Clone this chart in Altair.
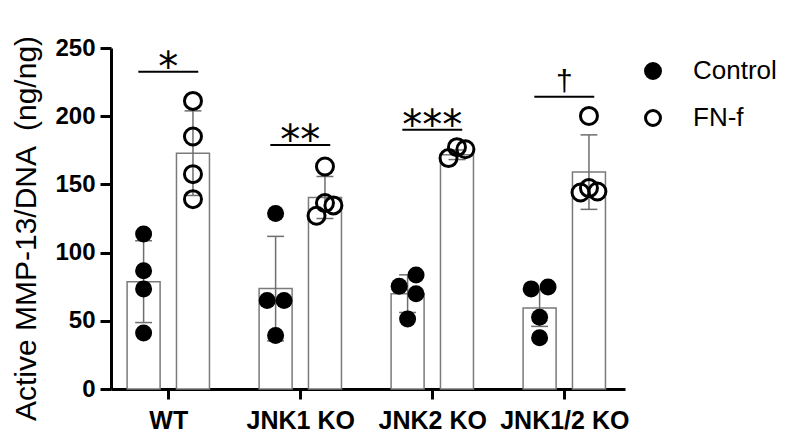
import json
import altair as alt
import pandas as pd

# ---------------- data ----------------
groups = ["WT", "JNK1 KO", "JNK2 KO", "JNK1/2 KO"]
treatments = ["Control", "FN-f"]

ctrl_points = [[113.6, 86.7, 73.4, 41.1],
               [128.7, 64.8, 64.8, 39.2],
               [83.6, 75.3, 69.9, 51.4],
               [73.4, 74.8, 52.6, 37.5]]
fnf_points = [[211.2, 185.1, 157.5, 139.2],
              [163.1, 127.0, 136.3, 134.6],
              [169.3, 177.3, 175.8],
              [200.2, 144.1, 147.3, 144.8]]
# scatter spread index of each dot (-1 left, 0 centre, 1 right)
ctrl_spread = [[0, 0, 0, 0], [0, -1, 1, 0], [1, -1, 1, 0], [-1, 1, 0, 0]]
fnf_spread = [[0, 0, 0, 0], [0, -1, 0, 1], [-1, 0, 1], [0, -1, 0, 1]]

ctrl_mean = [78.7, 73.6, 69.9, 59.4]
ctrl_sd = [30.0, 38.3, 13.8, 13.5]
fnf_mean = [172.9, 140.4, 171.7, 159.0]
fnf_sd = [31.0, 15.4, 3.5, 27.3]

sig_text = ["*", "**", "***", "\u2020"]
sig_height = [232.6, 178.8, 190.0, 214.3]

y_ticks = [0, 50, 100, 150, 200, 250]

# ---------------- layout constants (category units) ----------------
OFF = 0.187       # bar offset from group centre
HALF_BAR = 0.125  # half bar width
SPREAD = 0.064    # dot spread
CAP = 0.064       # half error cap width
SIG_HALF = 0.227  # half width of significance line
FONT = "Liberation Sans"

bar_rows, cap_rows, pt_rows = [], [], []
for gi, g in enumerate(groups):
    for ti, (t, means, sds, pts, spr) in enumerate([
            ("Control", ctrl_mean, ctrl_sd, ctrl_points, ctrl_spread),
            ("FN-f", fnf_mean, fnf_sd, fnf_points, fnf_spread)]):
        pos = gi + (OFF if ti == 1 else -OFF)
        m, s = means[gi], sds[gi]
        bar_rows.append(dict(group=g, treat=t, pos=pos, x1=pos - HALF_BAR,
                             x2=pos + HALF_BAR, mean=m, zero=0,
                             lo=m - s, hi=m + s))
        for end in (m - s, m + s):
            cap_rows.append(dict(cl=pos - CAP, cr=pos + CAP, y=end))
        for v, sp in zip(pts[gi], spr[gi]):
            pt_rows.append(dict(group=g, treat=t, x=pos + sp * SPREAD, value=v))

bars = pd.DataFrame(bar_rows)
caps = pd.DataFrame(cap_rows)
pts = pd.DataFrame(pt_rows)
sig = pd.DataFrame(dict(c=list(range(len(groups))),
                        x1=[i - SIG_HALF for i in range(len(groups))],
                        x2=[i + SIG_HALF for i in range(len(groups))],
                        y=sig_height, text=sig_text))
stars = sig[sig["text"] != "\u2020"]
dagger = sig[sig["text"] == "\u2020"]

xscale = alt.Scale(domain=[-0.434, 3.46], nice=False, zero=False)
yscale = alt.Scale(domain=[0, 250], nice=False, zero=True)

label_expr = json.dumps(groups) + "[round(datum.value)]"
xaxis = alt.Axis(values=[0, 1, 2, 3], labelExpr=label_expr, title=None,
                 grid=False, tickSize=10, tickWidth=3, domainWidth=3,
                 domainColor="black", tickColor="black", labelColor="black",
                 labelFont=FONT, labelFontSize=25, labelFontWeight="bold",
                 labelPadding=9, labelFlush=False, labelOverlap=False)
yaxis = alt.Axis(values=y_ticks, title="Active MMP-13/DNA \u00a0(ng/ng)",
                 grid=False, tickSize=11, tickWidth=3, domainWidth=3,
                 domainColor="black", tickColor="black", labelColor="black",
                 labelFont=FONT, labelFontSize=24, labelFontWeight="bold",
                 labelPadding=5, titleFont=FONT, titleFontSize=30,
                 titleFontWeight="normal", titleColor="black",
                 titleAngle=270, titleBaseline="middle", titleAlign="center",
                 titleX=-85, titleY=180)

X = lambda f: alt.X(f, type="quantitative", scale=xscale, axis=xaxis)
Y = lambda f: alt.Y(f, type="quantitative", scale=yscale, axis=yaxis)

bar_layer = alt.Chart(bars).mark_bar(fill="white", stroke="#7a7a7a",
                                     strokeWidth=1.5).encode(
    x=X("x1"), x2="x2", y=Y("mean"), y2="zero")

err_layer = alt.Chart(bars).mark_rule(color="#6e6e6e", strokeWidth=1.5).encode(
    x=X("pos"), y=Y("lo"), y2="hi")

cap_layer = alt.Chart(caps).mark_rule(color="#6e6e6e", strokeWidth=1.5).encode(
    x=X("cl"), x2="cr", y=Y("y"))

pt_layer = alt.Chart(pts).mark_point(shape="circle", size=289, opacity=1,
                                     stroke="black").encode(
    x=X("x"), y=Y("value"),
    fill=alt.Fill("treat:N",
                  scale=alt.Scale(domain=treatments, range=["black", "transparent"]),
                  legend=alt.Legend(title=None, orient="none", legendX=529,
                                    legendY=10, symbolType="circle",
                                    symbolSize=225, symbolStrokeWidth=3,
                                    symbolStrokeColor="black",
                                    labelFont=FONT, labelFontSize=26,
                                    labelColor="black", labelOffset=27,
                                    rowPadding=19)),
    strokeWidth=alt.condition(alt.datum.treat == "Control", alt.value(0), alt.value(3)))

sig_line = alt.Chart(sig).mark_rule(color="black", strokeWidth=2).encode(
    x=X("x1"), x2="x2", y=Y("y"))

star_layer = alt.Chart(stars).mark_text(font="DejaVu Sans", fontSize=40, color="black",
                                        baseline="alphabetic", dy=9).encode(
    x=X("c"), y=Y("y"), text="text:N")

dagger_layer = alt.Chart(dagger).mark_text(font=FONT, fontSize=30, color="black",
                                           baseline="alphabetic", dy=-6).encode(
    x=X("c"), y=Y("y"), text="text:N")

chart = alt.layer(bar_layer, err_layer, cap_layer, pt_layer, sig_line,
                  star_layer, dagger_layer).properties(
    width=514, height=341,
    autosize=alt.AutoSizeParams(type="none"),
    padding={"left": 103, "top": 40, "right": 152, "bottom": 43},
    background="white",
).configure_view(stroke=None)

chart.save("out.html", embed_options={"renderer": "svg", "actions": False})
